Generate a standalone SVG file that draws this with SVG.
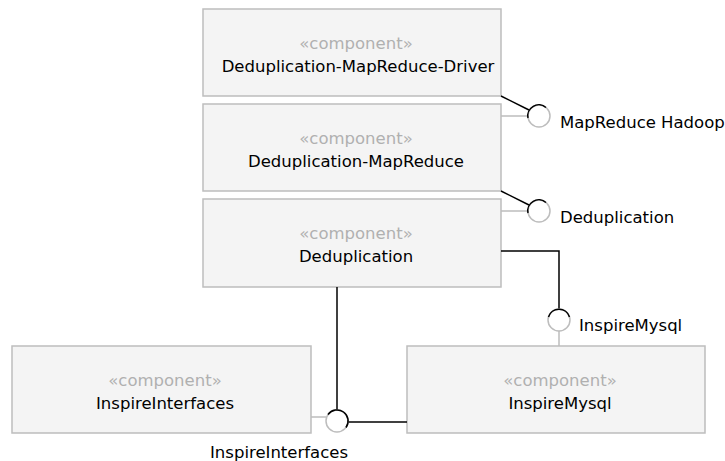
<svg xmlns="http://www.w3.org/2000/svg" width="725" height="461" viewBox="0 0 725 461">
<style>
.box{fill:#f4f4f4;stroke:#bdbdbd;stroke-width:1.5}
.st{font-family:"DejaVu Sans",sans-serif;font-size:16.5px;fill:#b0b0b0;text-anchor:middle}
.nm{font-family:"DejaVu Sans",sans-serif;font-size:16.5px;fill:#000;text-anchor:middle}
.lb{font-family:"DejaVu Sans",sans-serif;font-size:16.5px;fill:#000}
.req{fill:none;stroke:#000;stroke-width:1.5}
.prov{fill:none;stroke:#bdbdbd;stroke-width:1.5}
.ball{fill:#fff;stroke:#bdbdbd;stroke-width:1.5}
.arc{fill:none;stroke:#000;stroke-width:1.5}
</style>
<rect width="725" height="461" fill="#fff"/>
<g id="driver"><rect class="box" x="203" y="9" width="298" height="87"/><text class="st" x="356" y="49">«component»</text><text class="nm" x="358" y="72">Deduplication-MapReduce-Driver</text></g>
<g id="mapreduce"><rect class="box" x="203" y="104" width="298" height="87"/><text class="st" x="356" y="144">«component»</text><text class="nm" x="356" y="167">Deduplication-MapReduce</text></g>
<g id="dedup"><rect class="box" x="203" y="199" width="298" height="88"/><text class="st" x="356" y="239">«component»</text><text class="nm" x="356" y="262">Deduplication</text></g>
<g id="inspireinterfaces"><rect class="box" x="12" y="346" width="299" height="87"/><text class="st" x="165" y="386">«component»</text><text class="nm" x="165" y="409">InspireInterfaces</text></g>
<g id="inspiremysql"><rect class="box" x="407" y="346" width="298" height="87"/><text class="st" x="560" y="386">«component»</text><text class="nm" x="560" y="409">InspireMysql</text></g>
<g id="connectors">
<line class="prov" x1="501" y1="116" x2="527" y2="116"/>
<line class="req" x1="501" y1="96" x2="529" y2="110"/>
<circle class="ball" cx="539" cy="116" r="11"/>
<path class="arc" d="M528,118 A11,11 0 0 1 546,107.5"/>
<line class="prov" x1="501" y1="211" x2="527" y2="211"/>
<line class="req" x1="501" y1="191" x2="529" y2="205"/>
<circle class="ball" cx="539" cy="211" r="11"/>
<path class="arc" d="M528,213 A11,11 0 0 1 546,202.5"/>
<polyline class="req" points="501,251 559,251 559,309"/>
<line class="prov" x1="559" y1="331" x2="559" y2="346"/>
<circle class="ball" cx="559" cy="320" r="11"/>
<path class="arc" d="M548.5,317 A11,11 0 0 1 569.5,317"/>
<line class="req" x1="337" y1="287" x2="337" y2="410"/>
<line class="req" x1="348" y1="422" x2="407" y2="422"/>
<line class="prov" x1="311" y1="417" x2="326" y2="417"/>
<circle class="ball" cx="337" cy="421" r="11"/>
<path class="arc" d="M328,414.5 A11,11 0 0 1 346,427.5"/>
<text class="lb" x="560" y="128">MapReduce Hadoop</text>
<text class="lb" x="560" y="223">Deduplication</text>
<text class="lb" x="579" y="331">InspireMysql</text>
<text class="lb" x="210" y="458">InspireInterfaces</text>
</g>
</svg>
